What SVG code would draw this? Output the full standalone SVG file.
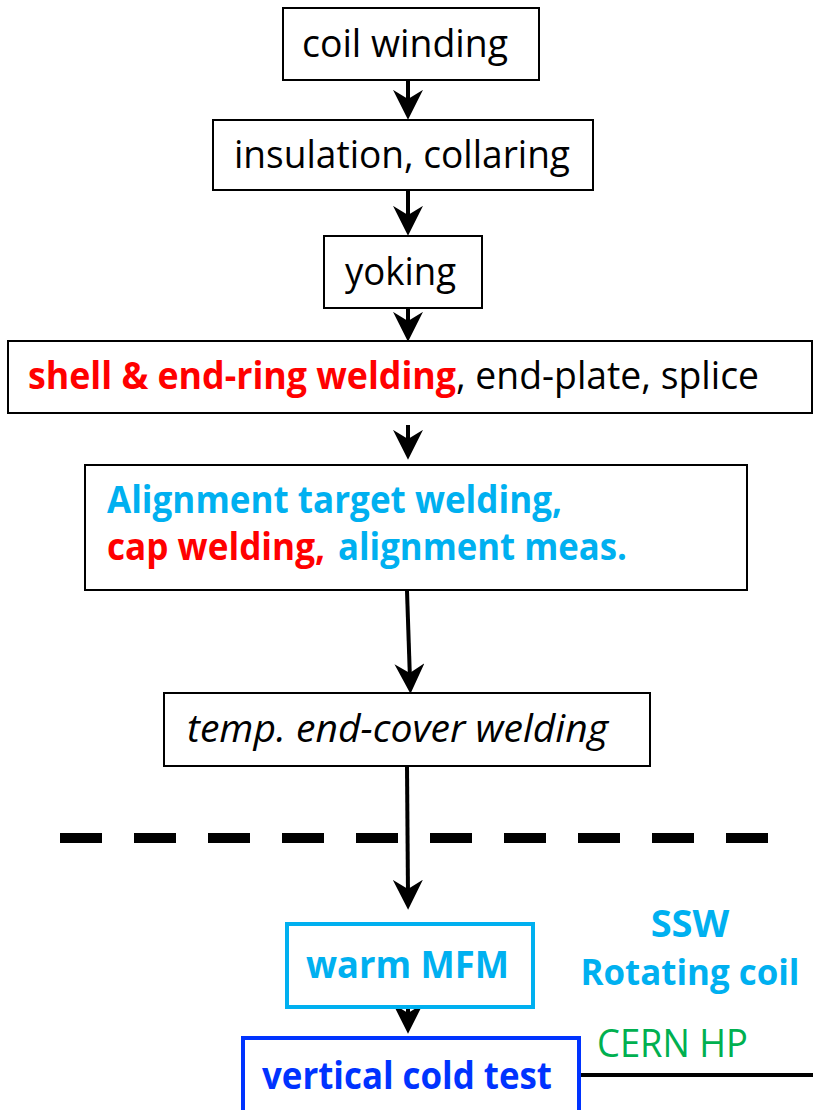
<svg xmlns="http://www.w3.org/2000/svg" width="813" height="1110" viewBox="0 0 813 1110">
<style>
.box{fill:#fff;stroke:#000;stroke-width:2}
.t{font-family:"Open Sans","Liberation Sans",sans-serif;font-size:39px;fill:#000}
.b{font-weight:bold;font-size:38px}
.i{font-style:italic}
.red{fill:#FF0000}
.cy{fill:#00B0F0}
.bl{fill:#0033FF}
.gr{fill:#00B050}
.conn{stroke:#000;stroke-width:4;fill:none}
</style>
<defs>
<marker id="ah" markerUnits="userSpaceOnUse" markerWidth="30" markerHeight="30" viewBox="0 0 26 26" refX="14" refY="13" orient="auto">
<path d="M0,0 L26,13 L0,26 L8,13 Z" fill="#000"/>
</marker>
</defs>

<g id="connectors">
<line class="conn" x1="408" y1="80" x2="408" y2="106" marker-end="url(#ah)"/>
<line class="conn" x1="408" y1="190" x2="408" y2="222" marker-end="url(#ah)"/>
<line class="conn" x1="408" y1="308" x2="408" y2="328" marker-end="url(#ah)"/>
<line class="conn" x1="408" y1="425" x2="408" y2="446" marker-end="url(#ah)"/>
<line class="conn" x1="407" y1="591" x2="410" y2="680" marker-end="url(#ah)"/>
<line class="conn" x1="407" y1="766" x2="408" y2="896" marker-end="url(#ah)"/>
<line class="conn" x1="408" y1="1007" x2="408" y2="1020" marker-end="url(#ah)"/>
<line class="conn" x1="579" y1="1075" x2="813" y2="1075"/>
</g>

<g id="divider">
<line x1="60" y1="838" x2="768" y2="838" stroke="#000" stroke-width="10" stroke-dasharray="42 32"/>
</g>

<g id="n1">
<rect class="box" x="283" y="8" width="256" height="72"/>
<text class="t" x="302" y="57" textLength="206" lengthAdjust="spacingAndGlyphs">coil winding</text>
</g>
<g id="n2">
<rect class="box" x="213" y="120" width="380" height="70"/>
<text class="t" x="234" y="168" textLength="336" lengthAdjust="spacingAndGlyphs">insulation, collaring</text>
</g>
<g id="n3">
<rect class="box" x="324" y="236" width="158" height="72"/>
<text class="t" x="345" y="285" textLength="111" lengthAdjust="spacingAndGlyphs">yoking</text>
</g>
<g id="n4">
<rect class="box" x="8" y="341" width="804" height="72"/>
<text class="t b red" x="28" y="389" textLength="428" lengthAdjust="spacingAndGlyphs">shell &amp; end-ring welding</text>
<text class="t" x="456" y="389" textLength="303" lengthAdjust="spacingAndGlyphs">, end-plate, splice</text>
</g>
<g id="n5">
<rect class="box" x="85" y="465" width="662" height="125"/>
<text class="t b cy" x="107" y="513" textLength="455" lengthAdjust="spacingAndGlyphs">Alignment target welding,</text>
<text class="t b red" x="107" y="560" textLength="218" lengthAdjust="spacingAndGlyphs">cap welding,</text>
<text class="t b cy" x="338" y="560" textLength="289" lengthAdjust="spacingAndGlyphs">alignment meas.</text>
</g>
<g id="n6">
<rect class="box" x="164" y="693" width="486" height="73"/>
<text class="t i" x="187" y="742" textLength="421" lengthAdjust="spacingAndGlyphs">temp. end-cover welding</text>
</g>
<g id="n7">
<rect x="287" y="924" width="246" height="83" fill="#fff" stroke="#00B0F0" stroke-width="4"/>
<text class="t b cy" x="306" y="978" textLength="203" lengthAdjust="spacingAndGlyphs">warm MFM</text>
</g>
<g id="n8">
<rect x="243" y="1038" width="336" height="90" fill="#fff" stroke="#0033FF" stroke-width="4"/>
<text class="t b bl" x="262" y="1089" textLength="290" lengthAdjust="spacingAndGlyphs">vertical cold test</text>
</g>
<g id="labels">
<text class="t b cy" x="690" y="937" text-anchor="middle">SSW</text>
<text class="t b cy" x="690" y="985" text-anchor="middle" style="font-size:35px" textLength="219" lengthAdjust="spacingAndGlyphs">Rotating coil</text>
<text class="t gr" x="597" y="1057" textLength="151" lengthAdjust="spacingAndGlyphs">CERN HP</text>
</g>
</svg>
